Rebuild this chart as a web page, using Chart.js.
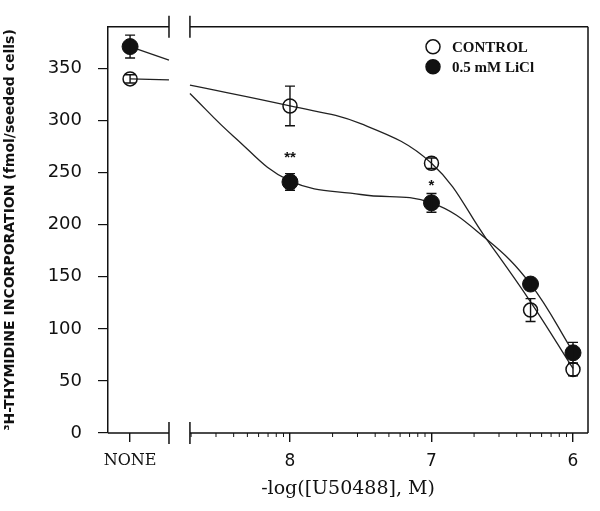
<!DOCTYPE html>
<html>
<head>
<meta charset="utf-8">
<script src="https://cdn.jsdelivr.net/npm/chart.js@4.4.0/dist/chart.umd.min.js"></script>
<style>
  body { margin: 0; background: #fff; }
  #wrap { width: 600px; height: 511px; }
</style>
</head>
<body>
<div id="wrap"><canvas id="doseChart"></canvas></div>
<script>
// x is -log[M]; the NONE group sits left of the axis break
var doseX = [9.13, 8, 7, 6.3, 6];
var controlValues = [340, 314, 259, 118, 61];
var controlErrors = [4, 19, 5, 11, 6];
var liclValues = [371, 241, 221, 143, 77];
var liclErrors = [11, 8, 9, 4, 10];
var liclMarks = ['', '**', '*', '', ''];

// fitted curves, split at the axis break
var controlCurveLeftX = [9.13, 8.855];
var controlCurveLeftY = [340, 339];
var controlCurveX = [8.707, 8, 7.5, 7, 6.61, 6.3, 6];
var controlCurveY = [334, 314, 297, 259, 186, 126, 62];
var liclCurveLeftX = [9.13, 8.855];
var liclCurveLeftY = [371, 358];
var liclCurveX = [8.707, 8.4, 8, 7.5, 7, 6.61, 6.3, 6];
var liclCurveY = [326, 285, 242, 229, 221, 186, 143, 78];

var xTickValues = [9.13, 8, 7, 6];
var xTickLabels = ['NONE', '8', '7', '6'];
var yTicks = [0, 50, 100, 150, 200, 250, 300, 350];

var xMin = 5.894, xMax = 9.286;
var yMin = 0, yMax = 390;
var breakFrom = 8.855, breakTo = 8.707;

function toPoints(xs, ys) {
    return xs.map(function(x, i) { return { x: x, y: ys[i] }; });
}

function curveDataset(xs, ys) {
    return {
        data: toPoints(xs, ys),
        showLine: true,
        pointRadius: 0,
        borderColor: '#222',
        borderWidth: 1.3,
        tension: 0.4,
        order: 2
    };
}

// minor log ticks on the right part of the axis
var minorTicks = [];
[9, 8, 7].forEach(function(d) {
    for (var k = 2; k <= 9; k++) {
        var v = d - Math.log10(k);
        if (v <= breakTo + 0.001 && v >= xMin) minorTicks.push(v);
    }
});

var framePlugin = {
    id: 'frame',
    afterDraw: function(chart) {
        var ctx = chart.ctx;
        var a = chart.chartArea;
        var xs = chart.scales.x;
        var b1 = xs.getPixelForValue(breakFrom);
        var b2 = xs.getPixelForValue(breakTo);
        ctx.save();
        ctx.strokeStyle = '#111';
        ctx.lineWidth = 1.5;
        ctx.beginPath();
        [a.top, a.bottom].forEach(function(y) {
            ctx.moveTo(a.left, y); ctx.lineTo(b1, y);
            ctx.moveTo(b2, y); ctx.lineTo(a.right, y);
            ctx.moveTo(b1, y - 11); ctx.lineTo(b1, y + 11);
            ctx.moveTo(b2, y - 11); ctx.lineTo(b2, y + 11);
        });
        ctx.moveTo(a.right, a.top); ctx.lineTo(a.right, a.bottom);
        ctx.stroke();
        ctx.lineWidth = 1;
        ctx.beginPath();
        minorTicks.forEach(function(v) {
            var px = xs.getPixelForValue(v);
            ctx.moveTo(px, a.bottom); ctx.lineTo(px, a.bottom + 4);
        });
        ctx.stroke();
        ctx.restore();
    }
};

var errorBarPlugin = {
    id: 'errorBars',
    afterDatasetsDraw: function(chart) {
        var ctx = chart.ctx;
        var ys = chart.scales.y;
        ctx.save();
        ctx.strokeStyle = '#111';
        ctx.lineWidth = 1.4;
        chart.data.datasets.forEach(function(ds, i) {
            if (!ds.errors) return;
            var meta = chart.getDatasetMeta(i);
            meta.data.forEach(function(pt, j) {
                var v = ds.data[j].y;
                var top = ys.getPixelForValue(v + ds.errors[j]);
                var bot = ys.getPixelForValue(v - ds.errors[j]);
                ctx.beginPath();
                ctx.moveTo(pt.x, top); ctx.lineTo(pt.x, bot);
                ctx.moveTo(pt.x - 5, top); ctx.lineTo(pt.x + 5, top);
                ctx.moveTo(pt.x - 5, bot); ctx.lineTo(pt.x + 5, bot);
                ctx.stroke();
                if (ds.marks && ds.marks[j]) {
                    ctx.fillStyle = '#111';
                    ctx.font = 'bold 15px "Liberation Sans"';
                    ctx.textAlign = 'center';
                    ctx.textBaseline = 'middle';
                    ctx.fillText(ds.marks[j], pt.x, top - 8 - (ds.marks[j].length - 1) * 8);
                }
            });
        });
        ctx.restore();
    }
};

var legendPlugin = {
    id: 'cornerLegend',
    afterDraw: function(chart) {
        var ctx = chart.ctx;
        var a = chart.chartArea;
        var x = a.right - 155;
        var y = a.top + 20;
        ctx.save();
        ctx.font = 'bold 15px "Liberation Serif"';
        ctx.textBaseline = 'middle';
        ctx.textAlign = 'left';
        [chart.data.datasets[0], chart.data.datasets[1]].forEach(function(ds, i) {
            var cy = y + i * 20;
            ctx.beginPath();
            ctx.arc(x, cy, 7, 0, Math.PI * 2);
            ctx.lineWidth = 1.5;
            ctx.strokeStyle = '#111';
            if (ds.backgroundColor !== 'rgba(0,0,0,0)') {
                ctx.fillStyle = '#111';
                ctx.fill();
            }
            ctx.stroke();
            ctx.fillStyle = '#111';
            ctx.fillText(ds.label, x + 19, cy + 1);
        });
        ctx.restore();
    }
};

new Chart(document.getElementById('doseChart'), {
    type: 'line',
    data: {
        datasets: [
            {
                label: 'CONTROL',
                data: toPoints(doseX, controlValues),
                errors: controlErrors,
                showLine: false,
                pointRadius: 7,
                pointBorderWidth: 1.5,
                borderColor: '#111',
                backgroundColor: 'rgba(0,0,0,0)',
                order: 1
            },
            {
                label: '0.5 mM LiCl',
                data: toPoints(doseX, liclValues),
                errors: liclErrors,
                marks: liclMarks,
                showLine: false,
                pointRadius: 8,
                pointBorderWidth: 1,
                borderColor: '#111',
                backgroundColor: '#111',
                order: 0
            },
            curveDataset(controlCurveLeftX, controlCurveLeftY),
            curveDataset(controlCurveX, controlCurveY),
            curveDataset(liclCurveLeftX, liclCurveLeftY),
            curveDataset(liclCurveX, liclCurveY)
        ]
    },
    options: {
        responsive: true,
        maintainAspectRatio: false,
        animation: false,
        layout: { padding: { top: 22, right: 12, left: 0, bottom: 0 } },
        plugins: {
            legend: { display: false },
            tooltip: { enabled: false }
        },
        scales: {
            x: {
                type: 'linear',
                reverse: true,
                min: xMin,
                max: xMax,
                afterBuildTicks: function(scale) {
                    scale.ticks = xTickValues.map(function(v) { return { value: v }; });
                },
                afterFit: function(scale) { scale.height = 78; },
                border: { display: false },
                grid: { drawOnChartArea: false, tickLength: 9, color: '#111', lineWidth: 1.4 },
                ticks: {
                    padding: 9,
                    color: '#111',
                    maxRotation: 0,
                    autoSkip: false,
                    font: function(c) {
                        return c.tick && c.tick.value > 9
                            ? { family: 'DejaVu Serif', size: 16 }
                            : { family: 'DejaVu Sans', size: 17 };
                    },
                    callback: function(value) {
                        return xTickLabels[xTickValues.indexOf(value)];
                    }
                },
                title: {
                    display: true,
                    text: '-log([U50488], M)',
                    color: '#111',
                    font: { family: 'DejaVu Serif', size: 19 },
                    padding: { top: 2, bottom: 11 }
                }
            },
            y: {
                min: yMin,
                max: yMax,
                afterBuildTicks: function(scale) {
                    scale.ticks = yTicks.map(function(v) { return { value: v }; });
                },
                afterFit: function(scale) { scale.width = 108; },
                border: { display: true, color: '#111', width: 1.5 },
                grid: { drawOnChartArea: false, tickLength: 10, color: '#111', lineWidth: 1.2 },
                ticks: {
                    padding: 16,
                    color: '#111',
                    font: { family: 'DejaVu Sans', size: 18 }
                },
                title: {
                    display: true,
                    text: '\u00B3H-THYMIDINE INCORPORATION (fmol/seeded cells)',
                    color: '#111',
                    font: { family: 'DejaVu Sans', size: 14, weight: 'bold' },
                    padding: { top: 2, bottom: 2 }
                }
            }
        }
    },
    plugins: [framePlugin, errorBarPlugin, legendPlugin]
});
</script>
</body>
</html>
